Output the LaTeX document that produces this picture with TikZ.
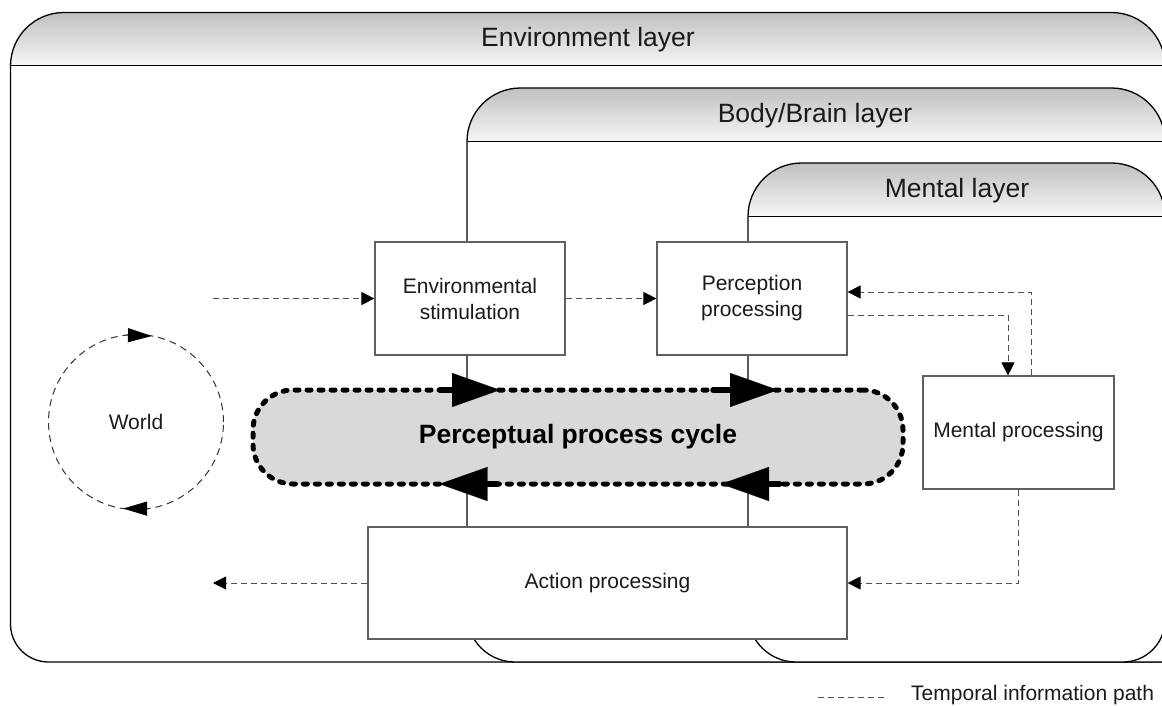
\documentclass[tikz,border=0pt]{standalone}
\usepackage{fontspec}
\setmainfont{Liberation Sans}
\usetikzlibrary{arrows.meta,calc}
\definecolor{hdrtop}{RGB}{192,192,192}
\definecolor{hdrbot}{RGB}{247,247,247}
\definecolor{boxline}{RGB}{96,96,96}
\definecolor{dashcol}{RGB}{80,80,80}
\definecolor{cyclefill}{RGB}{217,217,217}
\definecolor{txt}{RGB}{26,26,26}
\tikzset{
  layerfill/.style={fill=white},
  layerline/.style={draw=black, line width=1.3pt},
  hdr/.style={top color=hdrtop, bottom color=hdrbot},
  hdrline/.style={draw=black, line width=1pt},
  hdrtext/.style={font=\fontsize{26.5}{32}\selectfont, text=txt, inner sep=0pt},
  procbox/.style={draw=boxline, line width=1.2pt, fill=white, inner sep=0pt, align=center,
    font=\fontsize{21}{26}\selectfont, text=txt},
  tpath/.style={draw=dashcol, line width=1pt, dash pattern=on 6pt off 4pt},
  tarrow/.style={tpath, -{Triangle[length=13pt,width=13pt,color=black]}},
  cyclebox/.style={draw=black, line width=5pt, dash pattern=on 4pt off 8pt, line cap=round,
    fill=cyclefill, rounded corners=40pt, inner sep=0pt,
    font=\bfseries\fontsize{26.5}{32}\selectfont, text=black},
  cyclearrow/.style={draw=black, line width=5.5pt, line cap=round,
    -{Triangle[length=48pt,width=34pt,line width=0.1pt]}},
  worldnode/.style={circle, draw=black!80, line width=1pt, dash pattern=on 7pt off 5pt,
    minimum size=175pt, inner sep=0pt, font=\fontsize{21}{26}\selectfont, text=txt},
  worldarrow/.style={draw=black!80, line width=1pt, -{Triangle[length=24pt,width=14pt,color=black]}},
  legendtext/.style={font=\fontsize{21}{26}\selectfont, text=txt, inner sep=0pt, anchor=west},
}
\begin{document}
\begin{tikzpicture}[x=1pt,y=-1pt]
\useasboundingbox (0,0) rectangle (1162,706);
\clip (0,0) rectangle (1162,706);

% ---------- Environment layer ----------
\path[layerfill] (10.5,624) -- (10.5,66) .. controls (10.5,36.45) and (34.45,12.5) .. (64,12.5)
  -- (1111.5,12.5) .. controls (1141.05,12.5) and (1165,36.45) .. (1165,66) -- (1165,662)
  -- (48.5,662) .. controls (27.51,662) and (10.5,644.99) .. (10.5,624) -- cycle;
\shade[hdr] (10.5,66) .. controls (10.5,36.45) and (34.45,12.5) .. (64,12.5)
  -- (1111.5,12.5) .. controls (1141.05,12.5) and (1165,36.45) .. (1165,66) -- cycle;
\draw[layerline] (10.5,624) -- (10.5,66) .. controls (10.5,36.45) and (34.45,12.5) .. (64,12.5)
  -- (1111.5,12.5) .. controls (1141.05,12.5) and (1165,36.45) .. (1165,66) -- (1165,662)
  -- (48.5,662) .. controls (27.51,662) and (10.5,644.99) .. (10.5,624) -- cycle;
\draw[hdrline] (10.5,66) -- (1165,66);
\node[hdrtext] (envlabel) at (588,39.5) {Environment layer};

% ---------- Body/Brain layer ----------
\path[layerfill] (467,614) -- (467,141.5) .. controls (467,111.95) and (490.95,88) .. (520.5,88)
  -- (1111.5,88) .. controls (1141.05,88) and (1165,111.95) .. (1165,141.5) -- (1165,662)
  -- (515,662) .. controls (488.49,662) and (467,640.51) .. (467,614) -- cycle;
\shade[hdr] (467,141.5) .. controls (467,111.95) and (490.95,88) .. (520.5,88)
  -- (1111.5,88) .. controls (1141.05,88) and (1165,111.95) .. (1165,141.5) -- cycle;
\draw[layerline] (467,614) -- (467,141.5) .. controls (467,111.95) and (490.95,88) .. (520.5,88)
  -- (1111.5,88) .. controls (1141.05,88) and (1165,111.95) .. (1165,141.5) -- (1165,662)
  -- (515,662) .. controls (488.49,662) and (467,640.51) .. (467,614) -- cycle;
\draw[hdrline] (467,141.5) -- (1165,141.5);
\node[hdrtext] (bodylabel) at (815,115.5) {Body/Brain layer};

% ---------- Mental layer ----------
\path[layerfill] (748,614) -- (748,216.5) .. controls (748,186.95) and (771.95,163) .. (801.5,163)
  -- (1111.5,163) .. controls (1141.05,163) and (1165,186.95) .. (1165,216.5) -- (1165,620)
  .. controls (1165,643.2) and (1146.2,662) .. (1123,662)
  -- (796,662) .. controls (769.49,662) and (748,640.51) .. (748,614) -- cycle;
\shade[hdr] (748,216.5) .. controls (748,186.95) and (771.95,163) .. (801.5,163)
  -- (1111.5,163) .. controls (1141.05,163) and (1165,186.95) .. (1165,216.5) -- cycle;
\draw[layerline] (748,614) -- (748,216.5) .. controls (748,186.95) and (771.95,163) .. (801.5,163)
  -- (1111.5,163) .. controls (1141.05,163) and (1165,186.95) .. (1165,216.5) -- (1165,620)
  .. controls (1165,643.2) and (1146.2,662) .. (1123,662)
  -- (796,662) .. controls (769.49,662) and (748,640.51) .. (748,614) -- cycle;
\draw[hdrline] (748,216.5) -- (1165,216.5);
\node[hdrtext] (mentallabel) at (957,190.5) {Mental layer};

% ---------- Cycle ----------
\node[cyclebox, minimum width=650pt, minimum height=94pt] (cycle) at (578,437) {Perceptual process cycle};

% ---------- Boxes ----------
\node[procbox, minimum width=190pt, minimum height=113pt] (envstim) at (470,298.5) {Environmental\\stimulation};
\node[procbox, minimum width=190pt, minimum height=113pt] (percep) at (752,298.5) {Perception\\processing};
\node[procbox, minimum width=191pt, minimum height=113pt] (mental) at (1018.5,432.5) {Mental processing};
\node[procbox, minimum width=479pt, minimum height=112pt] (action) at (607.5,583) {Action processing};

% ---------- World ----------
\node[worldnode] (world) at (136,422) {World};
\draw[worldarrow] ($(world.center)+(-97:87.5)$) -- ($(world.center)+(-79.5:87.5)$);
\draw[worldarrow] ($(world.center)+(82:87.5)$) -- ($(world.center)+(98.5:87.5)$);

% ---------- Cycle arrows ----------
\coordinate (ta1) at (440,390);  \coordinate (tb1) at (500,390);
\coordinate (ta2) at (713,390);  \coordinate (tb2) at (778,390);
\coordinate (ba1) at (497.5,484); \coordinate (bb1) at (439.5,484);
\coordinate (ba2) at (779.5,484); \coordinate (bb2) at (721,484);
\draw[cyclearrow] (ta1) -- (tb1);
\draw[cyclearrow] (ta2) -- (tb2);
\draw[cyclearrow] (ba1) -- (bb1);
\draw[cyclearrow] (ba2) -- (bb2);

% ---------- Temporal information paths ----------
\coordinate (wstart) at (213,298.5);
\coordinate (wend) at (213,583);
\draw[tarrow] (wstart) -- (envstim.west);
\draw[tarrow] (envstim.east) -- (percep.west);
\draw[tarrow] ($(percep.east)+(0,16.5)$) -| ($(mental.north)+(-10.5,0)$);
\draw[tarrow] ($(mental.north)+(12.5,0)$) |- ($(percep.east)+(0,-6.5)$);
\draw[tarrow] (mental.south) |- (action.east);
\draw[tarrow] (action.west) -- (wend);

% ---------- Legend ----------
\coordinate (lga) at (818,697);
\coordinate (lgb) at (887,697);
\draw[tpath] (lga) -- (lgb);
\node[legendtext] (legend) at (911,695) {Temporal information path};
\end{tikzpicture}
\end{document}
